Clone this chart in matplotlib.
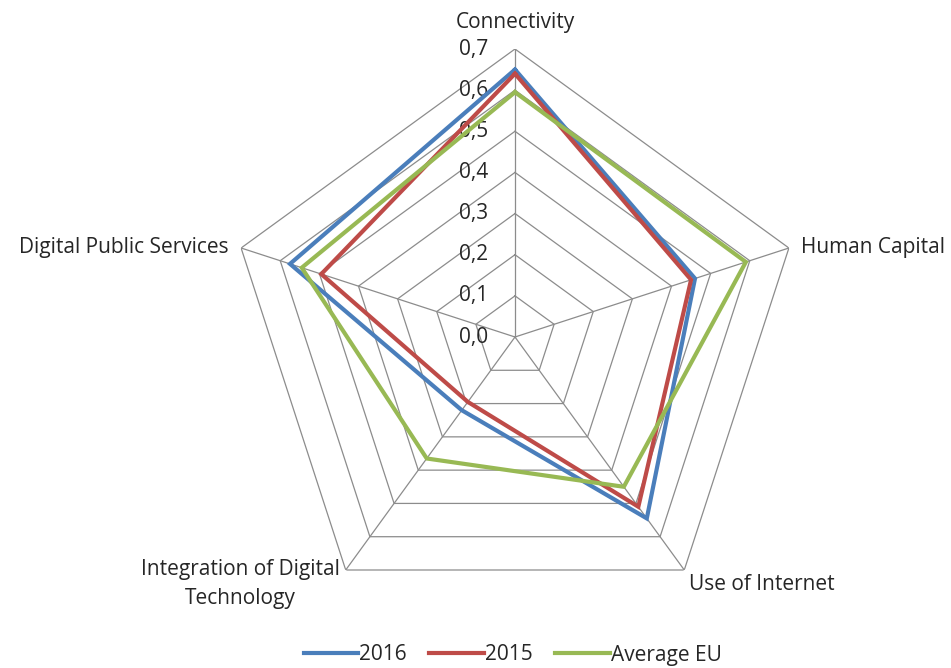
import numpy as np
import matplotlib
matplotlib.use("Agg")
import matplotlib.pyplot as plt
from matplotlib.lines import Line2D

# Digital Economy and Society Index dimensions
categories = ["Connectivity", "Human Capital", "Use of Internet",
              "Integration of Digital\nTechnology", "Digital Public Services"]
series_names = ["2016", "2015", "Average EU"]
values_2016 = [0.65, 0.46, 0.545, 0.22, 0.575]
values_2015 = [0.64, 0.45, 0.51, 0.195, 0.495]
values_eu = [0.595, 0.59, 0.45, 0.365, 0.545]
tick_values = [0.0, 0.1, 0.2, 0.3, 0.4, 0.5, 0.6, 0.7]
tick_labels = ["0,0", "0,1", "0,2", "0,3", "0,4", "0,5", "0,6", "0,7"]

colors = ["#4A7EBB", "#BE4B48", "#98B954"]
grid_color = "#8C8C8C"
text_color = "#262626"
FS = 15

plt.rcParams["font.family"] = ["Open Sans", "DejaVu Sans"]

W, H, DPI = 951, 668, 100
PT = 72 / DPI  # points per pixel
fig = plt.figure(figsize=(W / DPI, H / DPI), dpi=DPI)
cx, cy, R = 515, 337, 288
ax = fig.add_axes([(cx - R) / W, (H - cy - R) / H, 2 * R / W, 2 * R / H],
                  projection="polar")
ax.set_theta_offset(np.pi / 2)
ax.set_theta_direction(-1)
ax.set_ylim(0, tick_values[-1])
ax.grid(False)
ax.spines["polar"].set_visible(False)
ax.set_xticks([])
ax.set_yticks([])
ax.patch.set_alpha(0)

n = len(categories)
angles = np.arange(n) * 2 * np.pi / n
closed = np.append(angles, angles[0])

# pentagonal gridlines and spokes
for t in tick_values[1:]:
    ax.plot(closed, [t] * (n + 1), color=grid_color, lw=0.9, zorder=1)
for a in angles:
    ax.plot([a, a], [0, tick_values[-1]], color=grid_color, lw=0.9, zorder=1)

# value labels along the vertical axis
for t, lab in zip(tick_values, tick_labels):
    ax.annotate(lab, xy=(0, t), xytext=(-27 * PT, 0), textcoords="offset points",
                ha="right", va="center", fontsize=FS, color=text_color)

# data series
for vals, c in zip([values_2016, values_2015, values_eu], colors):
    ax.plot(closed, vals + vals[:1], color=c, lw=3, zorder=3,
            solid_joinstyle="miter")

# category labels: (dx px, dy px, ha, va)
label_pos = [
    (0, 16, "center", "bottom"),
    (12, 1, "left", "center"),
    (5, -4, "left", "top"),
    (-6, -14, "right", "center"),
    (-12, 1, "right", "center"),
]
for a, cat, (dx, dy, ha, va) in zip(angles, categories, label_pos):
    ax.annotate(cat, xy=(a, tick_values[-1]), xytext=(dx * PT, dy * PT),
                textcoords="offset points", ha=ha, va=va, fontsize=FS,
                color=text_color, multialignment="center", linespacing=1.45)

handles = [Line2D([0], [0], color=c, lw=3) for c in colors]
leg = fig.legend(handles, series_names, loc="center",
                 bbox_to_anchor=(0.539, (H - 655) / H),
                 ncol=3, frameon=False, fontsize=FS, handlelength=2.6,
                 handletextpad=0.05, columnspacing=1.1, labelcolor=text_color)

fig.savefig("out.png", dpi=DPI)
